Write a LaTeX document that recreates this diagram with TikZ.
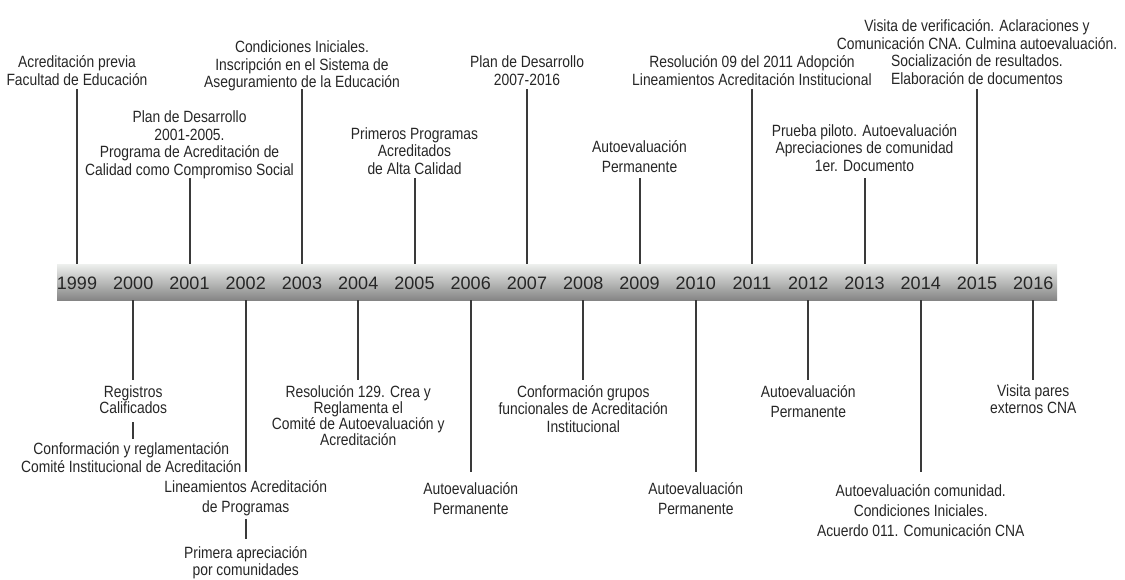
\documentclass[tikz,border=0pt]{standalone}
\usepackage{fontspec}
\setmainfont{Liberation Sans}
\newfontfamily\narrowfont{Liberation Sans}[FakeStretch=0.85]
\usetikzlibrary{positioning}

\definecolor{txtgray}{HTML}{262626}
\definecolor{stemgray}{HTML}{3A3A3A}
\definecolor{bartop}{HTML}{EEF0EE}
\definecolor{barmid}{HTML}{D2D3D2}
\definecolor{barbot}{HTML}{858585}

\tikzset{
  evt/.style={font=\narrowfont\fontsize{16.3}{17.6}\selectfont, align=center,
    text=txtgray, inner sep=0pt,
    execute at begin node={\rule{0pt}{12pt}},
    execute at end node={\rule[-3.5pt]{0pt}{0pt}}},
  evtwide/.style={evt, font=\narrowfont\fontsize{16.3}{20}\selectfont},
  stem/.style={draw=stemgray, line width=2pt},
  yearlbl/.style={font=\fontsize{18}{18}\selectfont, text=txtgray, inner sep=0pt},
  timebar/.style={minimum width=1000pt, minimum height=36pt, inner sep=0pt,
    top color=bartop, middle color=barmid, bottom color=barbot}
}

\begin{document}
\begin{tikzpicture}[x=1pt,y=-1pt]
  \useasboundingbox (0,0) rectangle (1125,579);

  % la barra y los anios
  \node[timebar] (bar) at (557,282) {};
  \foreach \yr [count=\i from 0] in {1999,...,2016}
    \node[yearlbl] (y\yr) at ({77+56.25*\i},283) {\yr};

  % extremos libres de las lineas
  \coordinate (c1999) at (77,89);
  \coordinate (c2001) at (189.5,178);
  \coordinate (c2003) at (302,89);
  \coordinate (c2005) at (414.5,178);
  \coordinate (c2007) at (527,89);
  \coordinate (c2009) at (639.5,178);
  \coordinate (c2011) at (752,89);
  \coordinate (c2013) at (864.5,178);
  \coordinate (c2015) at (977,89);
  \coordinate (c2000) at (133.25,380);
  \coordinate (c2002) at (245.75,472);
  \coordinate (c2004) at (358.25,380);
  \coordinate (c2006) at (470.75,472);
  \coordinate (c2008) at (583.25,380);
  \coordinate (c2010) at (695.75,472);
  \coordinate (c2012) at (808.25,380);
  \coordinate (c2014) at (920.75,472);
  \coordinate (c2016) at (1033.25,380);

  % arriba
  \node[evt, above=0pt of c1999] (e1999) {Acreditación previa\\Facultad de Educación};
  \node[evt, above=-1pt of c2001] (e2001) {Plan de Desarrollo\\2001-2005.\\Programa de Acreditación de\\Calidad como Compromiso Social};
  \node[evt, above=-2.5pt of c2003] (e2003) {Condiciones Iniciales.\\Inscripción en el Sistema de\\Aseguramiento de la Educación};
  \node[evt, above=0pt of c2005] (e2005) {Primeros Programas\\Acreditados\\de Alta Calidad};
  \node[evt, above=0pt of c2007] (e2007) {Plan de Desarrollo\\2007-2016};
  \node[evtwide, above=2pt of c2009] (e2009) {Autoevaluación\\Permanente};
  \node[evt, above=0pt of c2011] (e2011) {Resolución 09 del 2011 Adopción\\Lineamientos Acreditación Institucional};
  \node[evt, above=3pt of c2013] (e2013) {Prueba piloto. Autoevaluación\\Apreciaciones de comunidad\\1er. Documento};
  \node[evt, above=1pt of c2015] (e2015) {Visita de verificación. Aclaraciones y\\Comunicación CNA. Culmina autoevaluación.\\Socialización de resultados.\\Elaboración de documentos};

  % abajo
  \node[evt, below=5pt of c2000, font=\narrowfont\fontsize{16.3}{16.5}\selectfont] (e2000) {Registros\\Calificados};
  \node[evt, below=25pt of e2000.south, xshift=-2pt] (f2000) {Conformación y reglamentación\\Comité Institucional de Acreditación};
  \node[evtwide, below=8pt of c2002] (e2002) {Lineamientos Acreditación\\de Programas};
  \node[evt, below=30pt of e2002.south] (f2002) {Primera apreciación\\por comunidades};
  \node[evt, below=5pt of c2004, font=\narrowfont\fontsize{16.3}{16.2}\selectfont] (e2004) {Resolución 129. Crea y\\Reglamenta el\\Comité de Autoevaluación y\\Acreditación};
  \node[evtwide, below=10pt of c2006] (e2006) {Autoevaluación\\Permanente};
  \node[evt, below=5pt of c2008] (e2008) {Conformación grupos\\funcionales de Acreditación\\Institucional};
  \node[evtwide, below=10pt of c2010] (e2010) {Autoevaluación\\Permanente};
  \node[evtwide, below=5pt of c2012] (e2012) {Autoevaluación\\Permanente};
  \node[evtwide, below=12pt of c2014] (e2014) {Autoevaluación comunidad.\\Condiciones Iniciales.\\Acuerdo 011. Comunicación CNA};
  \node[evt, below=4pt of c2016] (e2016) {Visita pares\\externos CNA};

  % lineas
  \foreach \yr in {1999,2001,...,2015}
    \draw[stem] (c\yr) -- (c\yr |- bar.north);
  \foreach \yr in {2000,2002,...,2016}
    \draw[stem] (c\yr |- bar.south) -- (c\yr);
  \draw[stem, shorten <=5pt, shorten >=3pt] (e2000.south) -- (e2000.south |- f2000.north);
  \draw[stem, shorten <=3pt, shorten >=7pt] (e2002.south) -- (e2002.south |- f2002.north);
\end{tikzpicture}
\end{document}
